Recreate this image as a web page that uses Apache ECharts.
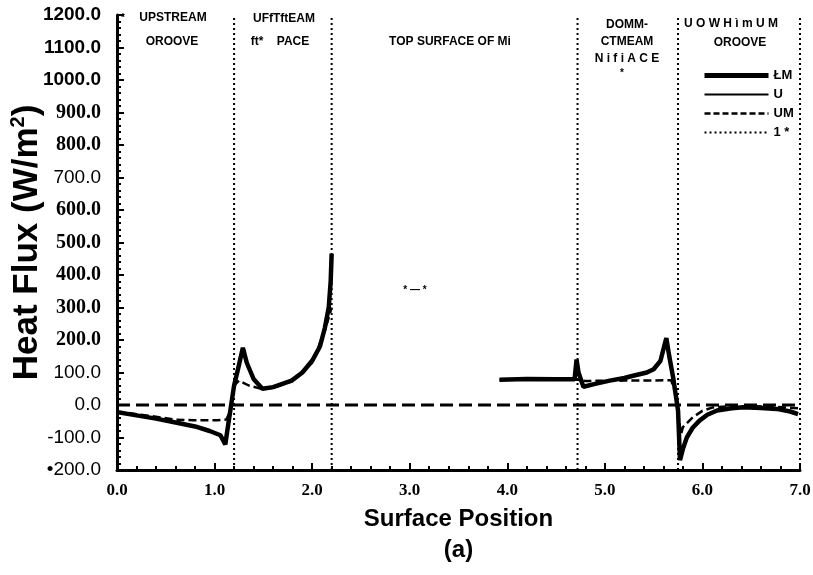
<!DOCTYPE html>
<html>
<head>
<meta charset="utf-8">
<script src="https://cdn.jsdelivr.net/npm/echarts@6/dist/echarts.min.js"></script>
<style>html,body{margin:0;padding:0;background:#fff}#c{width:813px;height:575px}</style>
</head>
<body>
<div id="c"></div>
<script>
// ---- data ----
const xTickLabels = ['0.0','1.0','2.0','3.0','4.0','5.0','6.0','7.0'];
const yTickLabels = ['•200.0','-100.0','0.0','100.0','200.0','300.0','400.0','500.0','600.0','700.0','800.0','900.0','1000.0','1100.0','1200.0'];
const yLabelFonts = ['r','r','r','r','t','t','t','t','t','r','t','t','a','a','a'];

const legendNames = ['ŁM','U','UM','1 *'];

// thick solid curve, upstream groove + upstream space
const solidUpX = [0,0.2,0.4,0.6,0.8,0.95,1.06,1.11,1.14,1.17,1.2,1.24,1.29,1.33,1.4,1.49,1.6,1.79,1.9,2.0,2.08,2.13,2.17,2.19,2.2];
const solidUpY = [-22,-32,-42,-54,-66,-80,-93,-121,-60,0,60,110,176,130,80,50,55,75,100,136,180,237,300,380,466];
// thick solid curve, top surface end + downstream space + downstream groove
const solidDnX = [3.92,4.2,4.5,4.69,4.71,4.73,4.78,4.9,5.05,5.2,5.29,5.43,5.5,5.57,5.63,5.66,5.7,5.75,5.77,5.8,5.84,5.9,5.97,6.05,6.15,6.3,6.42,6.6,6.76,6.9,6.98];
const solidDnY = [78,80,79,79,140,100,56,65,75,83,90,100,110,136,206,150,84,-17,-170,-135,-100,-70,-48,-30,-17,-10,-7,-9,-12,-20,-28];
// dashed curve
const dashUpX = [0,0.3,0.6,0.78,1.03,1.12,1.16,1.2,1.25,1.35,1.5,1.6,1.79,2.0,2.13,2.2];
const dashUpY = [-20,-32,-45,-47,-47,-45,-20,60,75,60,48,53,73,130,228,300];
const dashDnX = [3.92,4.72,4.8,5.2,5.68,5.72,5.74,5.78,5.8,5.9,6.0,6.1,6.3,6.7,7.0];
const dashDnY = [78,78,74,75,76,40,0,-90,-68,-38,-18,-8,-3,-5,-10];
// zero reference line
const zeroX = [0,7];
const zeroY = [0,0];
// region boundaries (dotted)
const boundaryX = [1.2,2.2,4.72,5.75,7.0];

const pairs = (xs, ys) => xs.map((x, i) => [x, ys[i]]);

const chart = echarts.init(document.getElementById('c'), null, {renderer: 'canvas'});

const black = '#000';
const series = [
  {name: legendNames[0], type: 'line', data: pairs(solidUpX, solidUpY), symbol: 'none', z: 5, color: black,
   lineStyle: {color: black, width: 4.5}},
  {name: legendNames[0], type: 'line', data: pairs(solidDnX, solidDnY), symbol: 'none', z: 5, color: black,
   lineStyle: {color: black, width: 4.5}},
  {name: legendNames[1], type: 'line', data: [], symbol: 'none', color: black,
   lineStyle: {color: black, width: 1.5}},
  {name: legendNames[2], type: 'line', data: pairs(dashUpX, dashUpY), symbol: 'none', z: 4, color: black,
   lineStyle: {color: black, width: 2.5, type: [8, 4]}},
  {name: legendNames[2], type: 'line', data: pairs(dashDnX, dashDnY), symbol: 'none', z: 4, color: black,
   lineStyle: {color: black, width: 2.5, type: [8, 4]}},
  {name: 'zero', type: 'line', data: pairs(zeroX, zeroY), symbol: 'none', z: 3, color: black,
   lineStyle: {color: black, width: 3, type: [13, 6]}}
];
boundaryX.forEach(bx => {
  series.push({name: legendNames[3], type: 'line', data: [[bx, -200], [bx, 1200]], symbol: 'none', z: 2, color: black,
    clip: false, lineStyle: {color: black, width: 2, type: [2, 3]}});
});

chart.setOption({
  animation: false,
  backgroundColor: '#fff',
  grid: {left: 117, right: 13, top: 15, bottom: 105, containLabel: false, outerBoundsMode: 'none'},
  legend: {
    data: [
      {name: legendNames[0], lineStyle: {width: 5, color: black}},
      {name: legendNames[1], lineStyle: {width: 2, color: black}},
      {name: legendNames[2], lineStyle: {width: 2.5, color: black, type: [6, 3]}},
      {name: legendNames[3], lineStyle: {width: 2, color: black, type: [2, 3]}}
    ],
    orient: 'vertical', left: 697, top: 64,
    itemWidth: 64, itemHeight: 10, itemGap: 6,
    itemStyle: {opacity: 0},
    textStyle: {fontFamily: 'Liberation Sans', fontWeight: 'bold', fontSize: 13, color: black},
    selectedMode: false
  },
  xAxis: {
    type: 'value', min: 0, max: 7, interval: 1,
    name: 'Surface Position\n(a)', nameLocation: 'middle', nameGap: 34, nameMoveOverlap: false,
    nameTextStyle: {fontFamily: 'Liberation Sans', fontWeight: 'bold', fontSize: 24, color: black, lineHeight: 31, verticalAlign: 'top'},
    axisLine: {show: true, onZero: false, lineStyle: {color: black, width: 3}},
    axisTick: {show: true, inside: true, length: 7, lineStyle: {color: black, width: 2}},
    minorTick: {show: true, splitNumber: 5, length: 4, lineStyle: {color: black, width: 2}},
    splitLine: {show: false},
    axisLabel: {
      margin: 12, color: black, fontFamily: 'Liberation Serif', fontWeight: 'bold', fontSize: 17,
      formatter: v => xTickLabels[Math.round(v)]
    }
  },
  yAxis: {
    type: 'value', min: -200, max: 1200, interval: 100,
    name: 'Heat Flux (W/m{sup|2})', nameLocation: 'middle', nameGap: 90, nameRotate: 90, nameMoveOverlap: false,
    nameTextStyle: {fontFamily: 'Liberation Sans', fontWeight: 'bold', fontSize: 35, color: black, verticalAlign: 'middle',
      rich: {sup: {fontFamily: 'Liberation Sans', fontWeight: 'bold', fontSize: 20, verticalAlign: 'top', padding: [0, 0, 17, 0]}}},
    axisLine: {show: true, onZero: false, lineStyle: {color: black, width: 3}},
    axisTick: {show: true, inside: true, length: 7, lineStyle: {color: black, width: 2}},
    minorTick: {show: true, splitNumber: 5, length: 4, lineStyle: {color: black, width: 2}},
    splitLine: {show: false},
    axisLabel: {
      margin: 16, color: black,
      formatter: v => {
        const i = Math.round((v + 200) / 100);
        return '{' + yLabelFonts[i] + '|' + yTickLabels[i] + '}';
      },
      rich: {
        a: {fontFamily: 'Liberation Sans', fontWeight: 'bold', fontSize: 19, color: black},
        t: {fontFamily: 'Liberation Serif', fontWeight: 'bold', fontSize: 20, color: black},
        r: {fontFamily: 'Liberation Sans', fontWeight: 'normal', fontSize: 19, color: black}
      }
    }
  },
  graphic: [
    {type: 'text', x: 173, y: 18, style: {text: 'UPSTREAM', font: 'bold 12px "Liberation Sans"', fill: black, align: 'center', verticalAlign: 'middle'}},
    {type: 'text', x: 172, y: 42, style: {text: 'OROOVE', font: 'bold 12px "Liberation Sans"', fill: black, align: 'center', verticalAlign: 'middle'}},
    {type: 'text', x: 284, y: 19, style: {text: 'UFfTftEAM', font: 'bold 12px "Liberation Sans"', fill: black, align: 'center', verticalAlign: 'middle'}},
    {type: 'text', x: 280, y: 42, style: {text: 'ft*    PACE', font: 'bold 12px "Liberation Sans"', fill: black, align: 'center', verticalAlign: 'middle'}},
    {type: 'text', x: 450, y: 42, style: {text: 'TOP SURFACE OF Mi', font: 'bold 12px "Liberation Sans"', fill: black, align: 'center', verticalAlign: 'middle'}},
    {type: 'text', x: 627, y: 25, style: {text: 'DOMM-', font: 'bold 12px "Liberation Sans"', fill: black, align: 'center', verticalAlign: 'middle'}},
    {type: 'text', x: 627, y: 42, style: {text: 'CTMEAM', font: 'bold 12px "Liberation Sans"', fill: black, align: 'center', verticalAlign: 'middle'}},
    {type: 'text', x: 627, y: 59, style: {text: 'N i f i A C E', font: 'bold 12px "Liberation Sans"', fill: black, align: 'center', verticalAlign: 'middle'}},
    {type: 'text', x: 622, y: 73, style: {text: '*', font: 'bold 10px "Liberation Sans"', fill: black, align: 'center', verticalAlign: 'middle'}},
    {type: 'text', x: 731, y: 24, style: {text: 'U O W H ì m U M', font: 'bold 12px "Liberation Sans"', fill: black, align: 'center', verticalAlign: 'middle'}},
    {type: 'text', x: 740, y: 43, style: {text: 'OROOVE', font: 'bold 12px "Liberation Sans"', fill: black, align: 'center', verticalAlign: 'middle'}},
    {type: 'text', x: 415, y: 290, style: {text: '* — *', font: 'bold 10px "Liberation Sans"', fill: black, align: 'center', verticalAlign: 'middle'}},
    {type: 'text', x: 123, y: 18, style: {text: '*', font: 'bold 10px "Liberation Sans"', fill: black, align: 'center', verticalAlign: 'middle'}}
  ],
  series: series
});
</script>
</body>
</html>
